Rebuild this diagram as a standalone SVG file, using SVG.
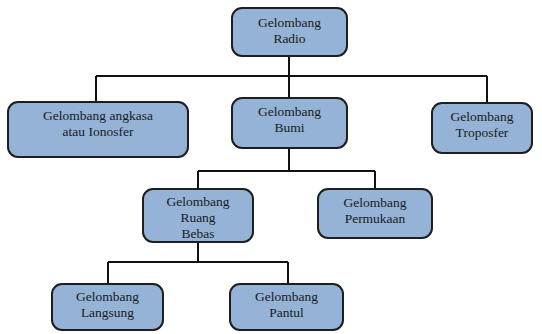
<svg xmlns="http://www.w3.org/2000/svg" width="542" height="334" viewBox="0 0 542 334">
<style>
.box{fill:#95b3d7;stroke:#1e1e1e;stroke-width:2}
.t{font-family:'Liberation Serif','DejaVu Serif',serif;font-size:13.5px;fill:#1a1a1a;text-anchor:middle}
.c{fill:none;stroke:#111;stroke-width:2}
</style>
<rect width="542" height="334" fill="#fff"/>
<g id="connectors">
<path class="c" d="M289 56V76M96 76H487M96 76V102M289 76V98M487 76V103"/>
<path class="c" d="M289 148V171M198 171H375M198 171V189M375 171V189"/>
<path class="c" d="M198 242V262M108 262H288M108 262V284M288 262V284"/>
</g>
<g id="radio"><rect class="box" x="232" y="8" width="115" height="48" rx="10"/><text class="t" x="289.5" y="27">Gelombang</text><text class="t" x="289.5" y="43">Radio</text></g>
<g id="angkasa"><rect class="box" x="8" y="102" width="180" height="55" rx="10"/><text class="t" x="98" y="120">Gelombang angkasa</text><text class="t" x="98" y="136">atau Ionosfer</text></g>
<g id="bumi"><rect class="box" x="232" y="98" width="115" height="50" rx="10"/><text class="t" x="289.5" y="116">Gelombang</text><text class="t" x="289.5" y="132">Bumi</text></g>
<g id="troposfer"><rect class="box" x="432" y="103" width="100" height="50" rx="10"/><text class="t" x="482" y="121">Gelombang</text><text class="t" x="482" y="137">Troposfer</text></g>
<g id="ruang"><rect class="box" x="143" y="189" width="110" height="53" rx="10"/><text class="t" x="198" y="206">Gelombang</text><text class="t" x="198" y="222">Ruang</text><text class="t" x="198" y="238">Bebas</text></g>
<g id="permukaan"><rect class="box" x="318" y="189" width="114" height="49" rx="10"/><text class="t" x="375" y="207">Gelombang</text><text class="t" x="375" y="223">Permukaan</text></g>
<g id="langsung"><rect class="box" x="52" y="284" width="111" height="46" rx="10"/><text class="t" x="107.5" y="301">Gelombang</text><text class="t" x="107.5" y="317">Langsung</text></g>
<g id="pantul"><rect class="box" x="230" y="284" width="113" height="46" rx="10"/><text class="t" x="286.5" y="301">Gelombang</text><text class="t" x="286.5" y="317">Pantul</text></g>
</svg>
